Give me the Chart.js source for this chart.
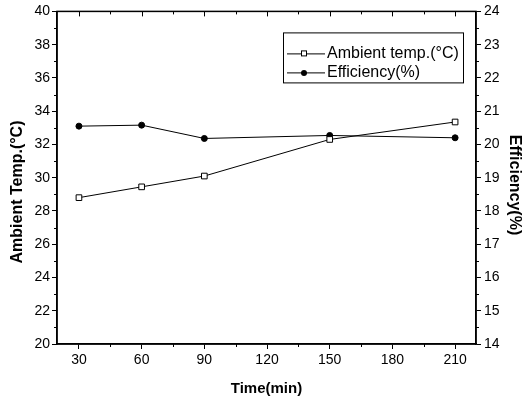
<!DOCTYPE html>
<html>
<head>
<meta charset="utf-8">
<script src="https://cdn.jsdelivr.net/npm/chart.js@4.4.0/dist/chart.umd.min.js"></script>
<style>
  body { margin: 0; background: #fff; }
</style>
</head>
<body>
<canvas id="canvas" width="523" height="399"></canvas>
<script>
// datos
const timeMin = [30, 60, 90, 150, 210];
const ambientTemp = [28.8, 29.45, 30.1, 32.3, 33.35];
const efficiency = [20.55, 20.58, 20.18, 20.27, 20.2];
const xTicks = [30, 60, 90, 120, 150, 180, 210];
const tempTicks = [20, 22, 24, 26, 28, 30, 32, 34, 36, 38, 40];
const effTicks = [14, 15, 16, 17, 18, 19, 20, 21, 22, 23, 24];
const xMinorTicks = [45, 75, 105, 135, 165, 195];
const tempMinorTicks = [21, 23, 25, 27, 29, 31, 33, 35, 37, 39];
const effMinorTicks = [14.5, 15.5, 16.5, 17.5, 18.5, 19.5, 20.5, 21.5, 22.5, 23.5];

const FONT = "'Liberation Sans', Arial, sans-serif";

// marco, ticks menores, titulos y leyenda
const framePlugin = {
  id: "frame",
  afterDraw: (chart) => {
    const ctx = chart.ctx;
    const a = chart.chartArea;
    const sx = chart.scales.x;
    const sy = chart.scales.y;
    const sy1 = chart.scales.y1;
    ctx.save();
    ctx.strokeStyle = "#000";
    ctx.lineWidth = 1.5;
    ctx.strokeRect(a.left, a.top, a.right - a.left, a.bottom - a.top);

    ctx.lineWidth = 1;
    ctx.beginPath();
    xTicks.forEach((v) => {
      const x = Math.round(sx.getPixelForValue(v)) + 0.5;
      ctx.moveTo(x, a.top);
      ctx.lineTo(x, a.top + 5);
    });
    xMinorTicks.forEach((v) => {
      const x = Math.round(sx.getPixelForValue(v)) + 0.5;
      ctx.moveTo(x, a.top);
      ctx.lineTo(x, a.top + 3);
      ctx.moveTo(x, a.bottom);
      ctx.lineTo(x, a.bottom + 3);
    });
    tempMinorTicks.forEach((v) => {
      const y = Math.round(sy.getPixelForValue(v)) + 0.5;
      ctx.moveTo(a.left, y);
      ctx.lineTo(a.left - 3, y);
    });
    effMinorTicks.forEach((v) => {
      const y = Math.round(sy1.getPixelForValue(v)) + 0.5;
      ctx.moveTo(a.right, y);
      ctx.lineTo(a.right + 3, y);
    });
    ctx.stroke();

    // titulos de ejes
    ctx.fillStyle = "#000";
    ctx.textAlign = "center";
    ctx.textBaseline = "middle";
    ctx.font = "bold 15px " + FONT;
    ctx.fillText("Time(min)", (a.left + a.right) / 2, 389);
    ctx.font = "bold 16px " + FONT;
    ctx.save();
    ctx.translate(18, 192);
    ctx.rotate(-Math.PI / 2);
    ctx.fillText("Ambient Temp.(°C)", 0, 0);
    ctx.restore();
    ctx.save();
    ctx.translate(514, 185);
    ctx.rotate(Math.PI / 2);
    ctx.fillText("Efficiency(%)", 0, 0);
    ctx.restore();

    // leyenda
    const bx = a.right - 193, by = a.top + 21, bw = 180, bh = 50;
    ctx.lineWidth = 1;
    ctx.strokeRect(bx + 0.5, by + 0.5, bw, bh);
    ctx.font = "16px " + FONT;
    ctx.textAlign = "left";
    chart.data.datasets.forEach((ds, i) => {
      const ry = by + 21 + i * 19 + 0.5;
      ctx.beginPath();
      ctx.moveTo(bx + 4, ry);
      ctx.lineTo(bx + 42, ry);
      ctx.stroke();
      const mx = bx + 21;
      if (ds.pointStyle === "rect") {
        ctx.fillStyle = "#fff";
        ctx.fillRect(mx - 3, ry - 3.5, 6, 6);
        ctx.strokeRect(mx - 3 + 0.5, ry - 3, 5, 5);
      } else {
        ctx.fillStyle = "#000";
        ctx.beginPath();
        ctx.arc(mx, ry, 3, 0, Math.PI * 2);
        ctx.fill();
      }
      ctx.fillStyle = "#000";
      ctx.fillText(ds.label, bx + 44, ry);
    });
    ctx.restore();
  },
};

const ctx = document.getElementById("canvas").getContext("2d");
window.myChart = new Chart(ctx, {
  type: "line",
  data: {
    datasets: [
      {
        label: "Ambient temp.(°C)",
        data: timeMin.map((t, i) => ({ x: t, y: ambientTemp[i] })),
        yAxisID: "y",
        borderColor: "#000",
        borderWidth: 1,
        pointStyle: "rect",
        pointRadius: 4,
        pointBackgroundColor: "#fff",
        pointBorderColor: "#000",
        pointBorderWidth: 1,
        fill: false,
      },
      {
        label: "Efficiency(%)",
        data: timeMin.map((t, i) => ({ x: t, y: efficiency[i] })),
        yAxisID: "y1",
        borderColor: "#000",
        borderWidth: 1,
        pointStyle: "circle",
        pointRadius: 3,
        pointBorderWidth: 1,
        pointBackgroundColor: "#000",
        pointBorderColor: "#000",
        fill: false,
      },
    ],
  },
  options: {
    responsive: false,
    animation: false,
    layout: { padding: { top: 11, left: 0, right: 0, bottom: 0 } },
    plugins: {
      legend: { display: false },
      tooltip: { enabled: false },
    },
    scales: {
      x: {
        type: "linear",
        position: "bottom",
        min: 19.5,
        max: 220,
        afterBuildTicks: (s) => {
          s.ticks = xTicks.map((v) => ({ value: v }));
        },
        afterFit: (s) => {
          s.height = 55;
        },
        grid: { drawOnChartArea: false, tickLength: 5, color: "#000" },
        border: { color: "#000", width: 1.5 },
        ticks: { color: "#000", font: { family: FONT, size: 14 }, padding: 3, maxRotation: 0 },
      },
      y: {
        position: "left",
        min: 20,
        max: 40,
        afterBuildTicks: (s) => {
          s.ticks = tempTicks.map((v) => ({ value: v }));
        },
        afterFit: (s) => {
          s.width = 57;
        },
        grid: { drawOnChartArea: false, tickLength: 5, color: "#000" },
        border: { color: "#000", width: 1.5 },
        ticks: { color: "#000", font: { family: FONT, size: 14 }, padding: 2 },
      },
      y1: {
        position: "right",
        min: 14,
        max: 24,
        afterBuildTicks: (s) => {
          s.ticks = effTicks.map((v) => ({ value: v }));
        },
        afterFit: (s) => {
          s.width = 47;
        },
        grid: { drawOnChartArea: false, tickLength: 5, color: "#000" },
        border: { color: "#000", width: 1.5 },
        ticks: { color: "#000", font: { family: FONT, size: 14 }, padding: 3 },
      },
    },
  },
  plugins: [framePlugin],
});
</script>
</body>
</html>
